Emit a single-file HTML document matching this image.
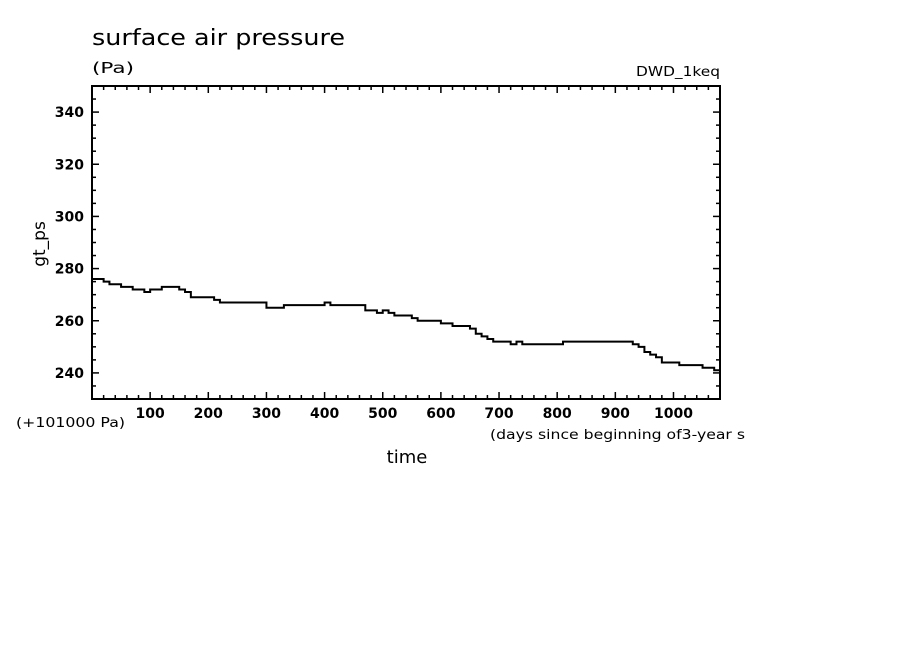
<!DOCTYPE html>
<html><head><meta charset="utf-8"><style>
html,body{margin:0;padding:0;background:#fff;}
svg{display:block;font-family:"DejaVu Sans","Liberation Sans",sans-serif;}
</style></head><body>
<svg id="chart" width="904" height="654" viewBox="0 0 904 654">
<text x="92" y="45" font-size="22" textLength="253" lengthAdjust="spacingAndGlyphs">surface air pressure</text>
<text x="92" y="73" font-size="15" textLength="42" lengthAdjust="spacingAndGlyphs">(Pa)</text>
<text x="636" y="76" font-size="13" textLength="84" lengthAdjust="spacingAndGlyphs">DWD_1keq</text>
<text x="0" y="0" font-size="17" text-anchor="middle" transform="translate(45,244) rotate(-90)">gt_ps</text>
<text x="16" y="427" font-size="13" textLength="109" lengthAdjust="spacingAndGlyphs">(+101000 Pa)</text>
<text x="490" y="439" font-size="13" textLength="255" lengthAdjust="spacingAndGlyphs">(days since beginning of3-year s</text>
<text x="407" y="463" font-size="18" text-anchor="middle">time</text>
<g id="axes"></g>
<path id="series" fill="none" stroke="#000" stroke-width="2"/>
<rect x="92" y="86" width="628" height="313" fill="none" stroke="#000" stroke-width="2"/>
</svg>
<script>
const days = [0,10,20,30,40,50,60,70,80,90,100,110,120,130,140,150,160,170,180,190,200,210,220,230,240,250,260,270,280,290,300,310,320,330,340,350,360,370,380,390,400,410,420,430,440,450,460,470,480,490,500,510,520,530,540,550,560,570,580,590,600,610,620,630,640,650,660,670,680,690,700,710,720,730,740,750,760,770,780,790,800,810,820,830,840,850,860,870,880,890,900,910,920,930,940,950,960,970,980,990,1000,1010,1020,1030,1040,1050,1060,1070,1080];
const values = [276,276,275,274,274,273,273,272,272,271,272,272,273,273,273,272,271,269,269,269,269,268,267,267,267,267,267,267,267,267,265,265,265,266,266,266,266,266,266,266,267,266,266,266,266,266,266,264,264,263,264,263,262,262,262,261,260,260,260,260,259,259,258,258,258,257,255,254,253,252,252,252,251,252,251,251,251,251,251,251,251,252,252,252,252,252,252,252,252,252,252,252,252,251,250,248,247,246,244,244,244,243,243,243,243,242,242,241,240];
const yTicks = [240,260,280,300,320,340];
const xTicks = [100,200,300,400,500,600,700,800,900,1000];
const X0=92,X1=720,Y0=399,Y1=86, xMin=0,xMax=1080,yMin=230,yMax=350;
const sx=d=>X0+(d-xMin)/(xMax-xMin)*(X1-X0);
const sy=v=>Y0-(v-yMin)/(yMax-yMin)*(Y0-Y1);
const NS="http://www.w3.org/2000/svg";
const axes=document.getElementById('axes');
function line(x1,y1,x2,y2,name){const l=document.createElementNS(NS,'line');l.setAttribute('x1',x1);l.setAttribute('y1',y1);l.setAttribute('x2',x2);l.setAttribute('y2',y2);l.setAttribute('stroke','#000');l.setAttribute('stroke-width','1.5');


axes.appendChild(l);}
function text(x,y,s,anchor,name){const t=document.createElementNS(NS,'text');t.setAttribute('x',x);t.setAttribute('y',y);t.setAttribute('font-size','14');t.setAttribute('font-weight','bold');t.setAttribute('text-anchor',anchor);t.textContent=s;


axes.appendChild(t);}
for(let d=20;d<xMax;d+=20){const major=d%100===0;const L=major?7:4;line(sx(d),Y0,sx(d),Y0-L,'x-tick');line(sx(d),Y1,sx(d),Y1+L,'x-tick-top');}
for(let v=235;v<yMax;v+=5){const major=v%20===0;const L=major?7:4;line(X0,sy(v),X0+L,sy(v),'y-tick');line(X1,sy(v),X1-L,sy(v),'y-tick-right');}
xTicks.forEach(d=>text(sx(d),418,String(d),'middle','x-tick-label'));
yTicks.forEach(v=>text(84,sy(v)+5,String(v),'end','y-tick-label'));
let p='';
for(let i=0;i<days.length;i++){const x=sx(days[i]),y=sy(values[i]);if(i===0)p+='M'+x+' '+y;else p+=' H'+x+' V'+y;}
document.getElementById('series').setAttribute('d',p);
</script>
</body></html>
